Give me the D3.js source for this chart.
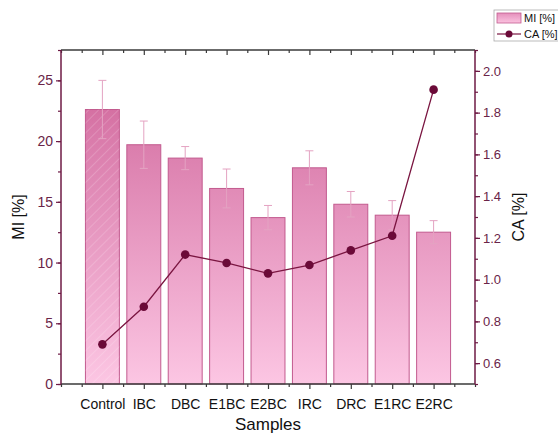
<!DOCTYPE html>
<html>
<head>
<meta charset="utf-8">
<script src="https://cdn.jsdelivr.net/npm/d3@7"></script>
<style>
  body { margin: 0; background: #fff; }
  svg { font-family: "Liberation Sans", Arial, sans-serif; }
</style>
</head>
<body>
<div id="chart"></div>
<script>
// data
var samples = ["Control", "IBC", "DBC", "E1BC", "E2BC", "IRC", "DRC", "E1RC", "E2RC"];
var miValues = [22.6, 19.7, 18.6, 16.1, 13.7, 17.8, 14.8, 13.9, 12.5];
var miErrors = [2.4, 1.95, 0.95, 1.6, 1.0, 1.4, 1.05, 1.2, 0.95];
var caValues = [0.69, 0.87, 1.12, 1.08, 1.03, 1.07, 1.14, 1.21, 1.91];
var miTicks = [0, 5, 10, 15, 20, 25];
var caTicks = [0.6, 0.8, 1.0, 1.2, 1.4, 1.6, 1.8, 2.0];

var w = 558, h = 435;
var pLeft = 61, pRight = 475, pTop = 50, pBottom = 384;
var axisColor = "#6e1a45";
var frameColor = "#3a3a3a";

var svg = d3.select("#chart").append("svg")
  .attr("width", w).attr("height", h);

var defs = svg.append("defs");
var grad = defs.append("linearGradient")
  .attr("id", "barGrad")
  .attr("gradientUnits", "userSpaceOnUse")
  .attr("x1", 0).attr("y1", pTop).attr("x2", 0).attr("y2", pBottom);
grad.append("stop").attr("offset", "0%").attr("stop-color", "#c9588f");
grad.append("stop").attr("offset", "25%").attr("stop-color", "#d97aaa");
grad.append("stop").attr("offset", "100%").attr("stop-color", "#fcc6e3");

var legGrad = defs.append("linearGradient")
  .attr("id", "legGrad").attr("x1", 0).attr("y1", 0).attr("x2", 0).attr("y2", 1);
legGrad.append("stop").attr("offset", "0%").attr("stop-color", "#e48fbb");
legGrad.append("stop").attr("offset", "100%").attr("stop-color", "#fbc3e0");

var hatch = defs.append("pattern")
  .attr("id", "hatch").attr("patternUnits", "userSpaceOnUse")
  .attr("width", 7).attr("height", 7)
  .attr("patternTransform", "rotate(45)");
hatch.append("line")
  .attr("x1", 0).attr("y1", 0).attr("x2", 0).attr("y2", 7)
  .attr("stroke", "#ffffff").attr("stroke-width", 1).attr("stroke-opacity", 0.35);

// scales
var x = d3.scaleLinear().domain([0, samples.length + 1]).range([pLeft, pRight]);
var yMI = d3.scaleLinear().domain([0, 27.5]).range([pBottom, pTop]);
var yCA = d3.scaleLinear().domain([0.5, 2.1]).range([pBottom, pTop]);
var barW = (x(1) - x(0)) * 0.82;

// bars
svg.selectAll("rect.bar")
  .data(miValues)
  .enter()
  .append("rect")
  .attr("class", "bar")
  .attr("x", function(d, i) { return x(i + 1) - barW / 2; })
  .attr("y", function(d) { return yMI(d); })
  .attr("width", barW)
  .attr("height", function(d) { return pBottom - yMI(d); })
  .attr("fill", "url(#barGrad)")
  .attr("stroke", "#c25a8e")
  .attr("stroke-width", 1);

// hatch on first bar
svg.append("rect")
  .attr("x", x(1) - barW / 2)
  .attr("y", yMI(miValues[0]))
  .attr("width", barW)
  .attr("height", pBottom - yMI(miValues[0]))
  .attr("fill", "url(#hatch)");

// error bars
var errG = svg.append("g")
  .attr("stroke", "#e4a3c2").attr("stroke-width", 1).attr("fill", "none");
miValues.forEach(function(v, i) {
  var cx = x(i + 1);
  var y1 = yMI(v + miErrors[i]), y2 = yMI(v - miErrors[i]);
  errG.append("line").attr("x1", cx).attr("x2", cx).attr("y1", y1).attr("y2", y2);
  errG.append("line").attr("x1", cx - 4).attr("x2", cx + 4).attr("y1", y1).attr("y2", y1);
  errG.append("line").attr("x1", cx - 4).attr("x2", cx + 4).attr("y1", y2).attr("y2", y2);
});

// CA line
var line = d3.line()
  .x(function(d, i) { return x(i + 1); })
  .y(function(d) { return yCA(d); });
svg.append("path")
  .datum(caValues)
  .attr("d", line)
  .attr("fill", "none")
  .attr("stroke", "#7a1540")
  .attr("stroke-width", 1.3);
svg.selectAll("circle.ca")
  .data(caValues)
  .enter()
  .append("circle")
  .attr("class", "ca")
  .attr("cx", function(d, i) { return x(i + 1); })
  .attr("cy", function(d) { return yCA(d); })
  .attr("r", 4.3)
  .attr("fill", "#6b0a38");

// axes
function styleAxis(g, color) {
  g.select(".domain").remove();
  g.selectAll(".tick line").attr("stroke", color).attr("stroke-width", 1.2);
  g.selectAll(".tick text").attr("font-size", 13);
}

var catTicks = d3.range(1, samples.length + 1);
var halfTicks = d3.range(0, samples.length + 1).map(function(d) { return d + 0.5; })
  .concat([0, samples.length + 1]);

// bottom
var gBotMinor = svg.append("g").attr("transform", "translate(0," + pBottom + ")")
  .call(d3.axisBottom(x).tickValues(halfTicks).tickSize(3).tickFormat(""));
styleAxis(gBotMinor, frameColor);
var gBot = svg.append("g").attr("transform", "translate(0," + pBottom + ")")
  .call(d3.axisBottom(x).tickValues(catTicks).tickSize(5).tickPadding(10)
    .tickFormat(function(d) { return samples[d - 1]; }));
styleAxis(gBot, frameColor);
gBot.selectAll(".tick text").attr("fill", "#111").attr("font-size", 14);

// top
var gTopMinor = svg.append("g").attr("transform", "translate(0," + pTop + ")")
  .call(d3.axisBottom(x).tickValues(halfTicks).tickSize(3).tickFormat(""));
styleAxis(gTopMinor, frameColor);
var gTop = svg.append("g").attr("transform", "translate(0," + pTop + ")")
  .call(d3.axisBottom(x).tickValues(catTicks).tickSize(5).tickFormat(""));
styleAxis(gTop, frameColor);

// left
var gLeftMinor = svg.append("g").attr("transform", "translate(" + pLeft + ",0)")
  .call(d3.axisLeft(yMI).tickValues(d3.range(0, 27.6, 2.5)).tickSize(3).tickFormat(""));
styleAxis(gLeftMinor, axisColor);
var gLeft = svg.append("g").attr("transform", "translate(" + pLeft + ",0)")
  .call(d3.axisLeft(yMI).tickValues(miTicks).tickSize(5).tickPadding(3));
styleAxis(gLeft, axisColor);
gLeft.selectAll(".tick text").attr("fill", "#6a2448").attr("font-size", 14);

// right
var gRightMinor = svg.append("g").attr("transform", "translate(" + pRight + ",0)")
  .call(d3.axisRight(yCA).tickValues(d3.range(0.5, 2.11, 0.1)).tickSize(3).tickFormat(""));
styleAxis(gRightMinor, axisColor);
var gRight = svg.append("g").attr("transform", "translate(" + pRight + ",0)")
  .call(d3.axisRight(yCA).tickValues(caTicks).tickSize(5).tickPadding(3).tickFormat(d3.format(".1f")));
styleAxis(gRight, axisColor);
gRight.selectAll(".tick text").attr("fill", "#6a2448");

// frame lines
svg.append("line").attr("x1", pLeft).attr("x2", pRight).attr("y1", pTop).attr("y2", pTop)
  .attr("stroke", frameColor).attr("stroke-width", 1.3);
svg.append("line").attr("x1", pLeft).attr("x2", pRight).attr("y1", pBottom).attr("y2", pBottom)
  .attr("stroke", frameColor).attr("stroke-width", 1.3);
svg.append("line").attr("x1", pLeft).attr("x2", pLeft).attr("y1", pTop).attr("y2", pBottom)
  .attr("stroke", axisColor).attr("stroke-width", 1.5);
svg.append("line").attr("x1", pRight).attr("x2", pRight).attr("y1", pTop).attr("y2", pBottom)
  .attr("stroke", axisColor).attr("stroke-width", 1.5);

// titles
svg.append("text")
  .attr("transform", "translate(24," + ((pTop + pBottom) / 2) + ") rotate(-90)")
  .attr("text-anchor", "middle")
  .attr("font-size", 16).attr("fill", "#111")
  .text("MI [%]");
svg.append("text")
  .attr("transform", "translate(524," + ((pTop + pBottom) / 2) + ") rotate(-90)")
  .attr("text-anchor", "middle")
  .attr("font-size", 16).attr("fill", "#111")
  .text("CA [%]");
svg.append("text")
  .attr("x", (pLeft + pRight) / 2)
  .attr("y", 430)
  .attr("text-anchor", "middle")
  .attr("font-size", 17).attr("fill", "#111")
  .text("Samples");

// legend
var leg = svg.append("g").attr("transform", "translate(494,10)");
leg.append("rect").attr("width", 66).attr("height", 31)
  .attr("fill", "#fff").attr("stroke", "#aaa").attr("stroke-width", 0.8);
leg.append("rect").attr("x", 3).attr("y", 3).attr("width", 24).attr("height", 10)
  .attr("fill", "url(#legGrad)").attr("stroke", "#c25a8e").attr("stroke-width", 0.8);
leg.append("text").attr("x", 30).attr("y", 12).attr("font-size", 11).attr("fill", "#111")
  .text("MI [%]");
leg.append("line").attr("x1", 3).attr("x2", 27).attr("y1", 24).attr("y2", 24)
  .attr("stroke", "#7a1540").attr("stroke-width", 1.2);
leg.append("circle").attr("cx", 15).attr("cy", 24).attr("r", 3.5).attr("fill", "#6b0a38");
leg.append("text").attr("x", 30).attr("y", 28).attr("font-size", 11).attr("fill", "#111")
  .text("CA [%]");
</script>
</body>
</html>
